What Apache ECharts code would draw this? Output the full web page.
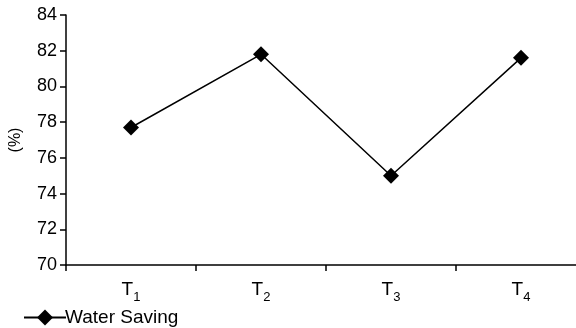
<!DOCTYPE html>
<html>
<head>
<meta charset="utf-8">
<script src="https://cdn.jsdelivr.net/npm/echarts@6/dist/echarts.min.js"></script>
<style>
  html, body { margin: 0; padding: 0; background: #fff; }
  #chart { width: 576px; height: 328px; }
</style>
</head>
<body>
<div id="chart"></div>
<script>
// Treatments (T with subscript index) and water saving percentages
const categories = ['T|1', 'T|2', 'T|3', 'T|4'];
const waterSaving = [77.7, 81.8, 75.0, 81.6];
const yTicks = [70, 72, 74, 76, 78, 80, 82, 84];
const seriesName = 'Water Saving';

const font = 'Liberation Sans, Arial, sans-serif';
const chart = echarts.init(document.getElementById('chart'), null, { renderer: 'canvas' });

chart.setOption({
  animation: false,
  backgroundColor: '#ffffff',
  textStyle: { fontFamily: font },
  // plot area runs slightly past the right edge, so the last category is clipped
  grid: { left: 66, width: 520, top: 15, height: 250, containLabel: false, outerBoundsMode: 'none' },
  legend: {
    data: [seriesName],
    left: 23,
    top: 308,
    padding: 0,
    itemWidth: 42,
    itemHeight: 20,
    itemGap: 4,
    textStyle: { fontFamily: font, fontSize: 19, color: '#000', padding: [0, 0, 0, -6] }
  },
  xAxis: {
    type: 'category',
    data: categories,
    boundaryGap: true,
    axisLine: { lineStyle: { color: '#000', width: 1.5 } },
    axisTick: { show: true, length: 6, lineStyle: { color: '#000', width: 1.5 } },
    axisLabel: {
      margin: 14,
      formatter: function (v) {
        const p = v.split('|');
        return '{m|' + p[0] + '}{s|' + p[1] + '}';
      },
      rich: {
        m: { fontFamily: font, fontSize: 19, color: '#000', verticalAlign: 'bottom', lineHeight: 20 },
        s: { fontFamily: font, fontSize: 13, color: '#000', verticalAlign: 'bottom', lineHeight: 14, padding: [0, 0, -5, 0] }
      }
    }
  },
  yAxis: {
    type: 'value',
    min: yTicks[0],
    max: yTicks[yTicks.length - 1],
    interval: 2,
    name: '(%)',
    nameLocation: 'middle',
    nameGap: 42,
    nameRotate: 90,
    nameTextStyle: { fontFamily: font, fontSize: 16, color: '#000' },
    axisLine: { show: true, lineStyle: { color: '#000', width: 1.5 } },
    axisTick: { show: true, length: 6, lineStyle: { color: '#000', width: 1.5 } },
    axisLabel: { margin: 9, fontFamily: font, fontSize: 18, color: '#000' },
    splitLine: { show: false }
  },
  series: [{
    name: seriesName,
    type: 'line',
    data: waterSaving,
    symbol: 'diamond',
    symbolSize: 16,
    color: '#000',
    lineStyle: { color: '#000', width: 1.5 },
    itemStyle: { color: '#000' }
  }]
});
</script>
</body>
</html>
